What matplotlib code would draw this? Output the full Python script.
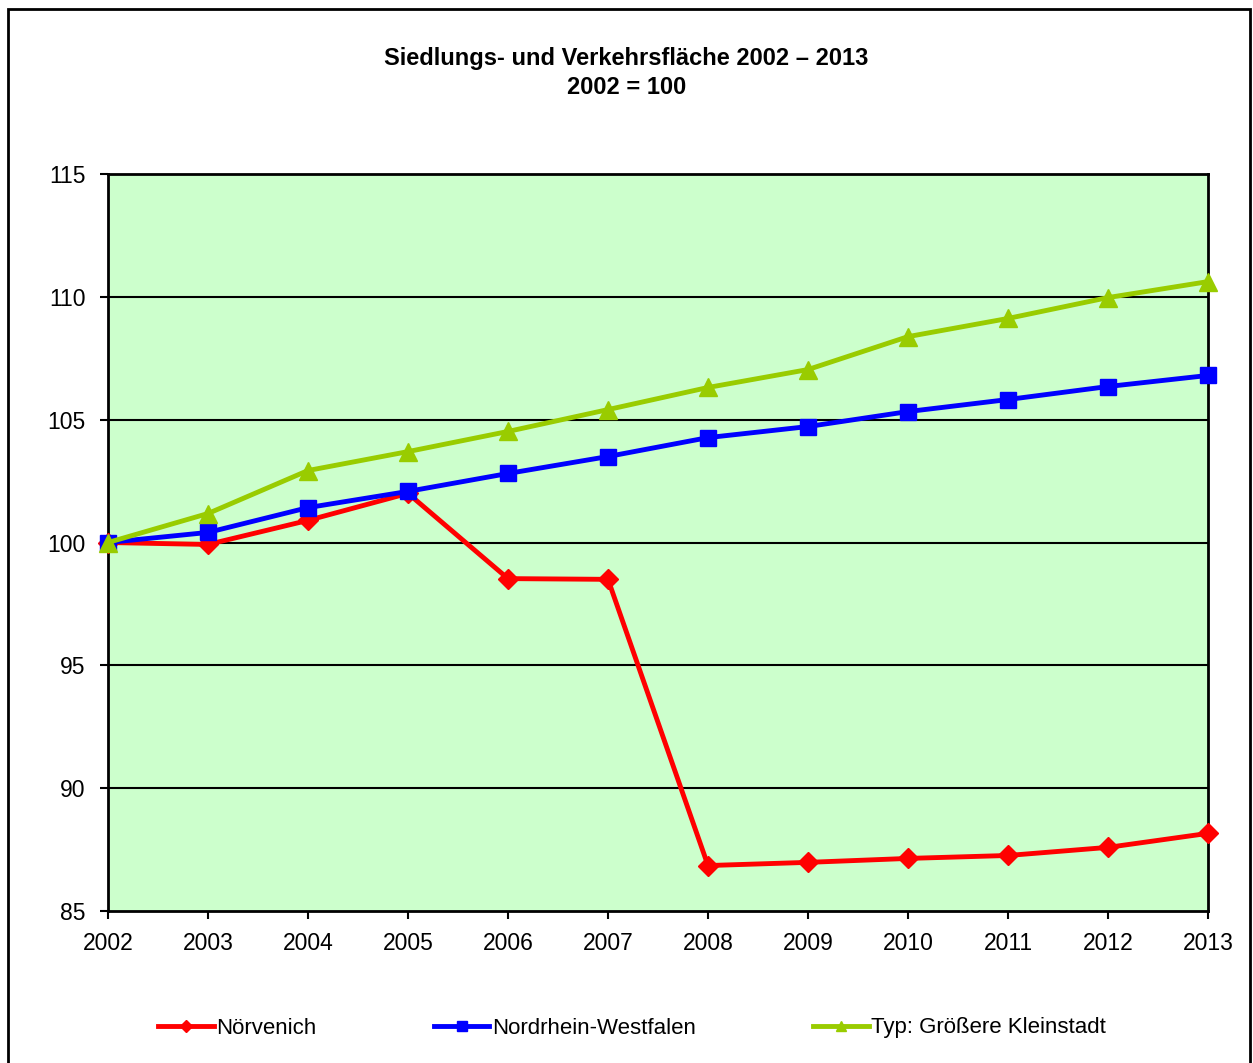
import matplotlib.pyplot as plt
from matplotlib.patches import Rectangle

plt.rcParams["font.family"] = ["Liberation Sans", "DejaVu Sans"]

years = list(range(2002, 2014))
noervenich = [100.0, 99.92, 100.9, 102.0, 98.53, 98.5, 86.85, 86.98, 87.14, 87.26, 87.59, 88.16]
nrw = [100.0, 100.41, 101.42, 102.08, 102.81, 103.5, 104.27, 104.72, 105.33, 105.82, 106.35, 106.8]
kleinstadt = [100.0, 101.18, 102.93, 103.7, 104.52, 105.41, 106.31, 107.04, 108.38, 109.12, 109.97, 110.62]
yticks = [85, 90, 95, 100, 105, 110, 115]

fig = plt.figure(figsize=(12.53, 10.63), dpi=100)
ax = fig.add_axes([108 / 1253, 1 - 911 / 1063, 1100 / 1253, 737 / 1063])
ax.set_facecolor("#CCFFCC")

# outer chart border
fig.patches.append(Rectangle((8 / 1253, -0.01), 1242 / 1253, 1 - 9 / 1063 + 0.01,
                             transform=fig.transFigure, fill=False,
                             edgecolor="black", lw=2))

for y in yticks[1:-1]:
    ax.axhline(y, color="black", lw=1.5, zorder=1)

ax.plot(years, noervenich, color="#FF0000", lw=3.5, marker="D", ms=10.5,
        label="Nörvenich", zorder=3, clip_on=False)
ax.plot(years, nrw, color="#0000FF", lw=3.5, marker="s", ms=12,
        label="Nordrhein-Westfalen", zorder=4, clip_on=False)
ax.plot(years, kleinstadt, color="#99CC00", lw=3.5, marker="^", ms=13,
        label="Typ: Größere Kleinstadt", zorder=5, clip_on=False)

ax.set_xlim(2002, 2013)
ax.set_ylim(85, 115)
ax.set_xticks(years)
ax.set_yticks(yticks)
ax.tick_params(axis="both", direction="out", length=6, width=1.5,
               labelsize=16.5)
ax.tick_params(axis="x", pad=9)
ax.tick_params(axis="y", pad=10)
for s in ax.spines.values():
    s.set_linewidth(2)

fig.text(0.5, 1 - 59 / 1063, "Siedlungs- und Verkehrsfläche 2002 – 2013",
         ha="center", va="center", fontsize=17, fontweight="bold")
fig.text(0.5, 1 - 87 / 1063, "2002 = 100",
         ha="center", va="center", fontsize=17, fontweight="bold")

fig.legend(loc="center", bbox_to_anchor=(632 / 1253, 1 - 1028 / 1063), ncol=3,
           frameon=False, fontsize=16, handlelength=2.5, handletextpad=0.1,
           columnspacing=5.3, markerscale=0.6)

fig.savefig("out.png", dpi=100)
